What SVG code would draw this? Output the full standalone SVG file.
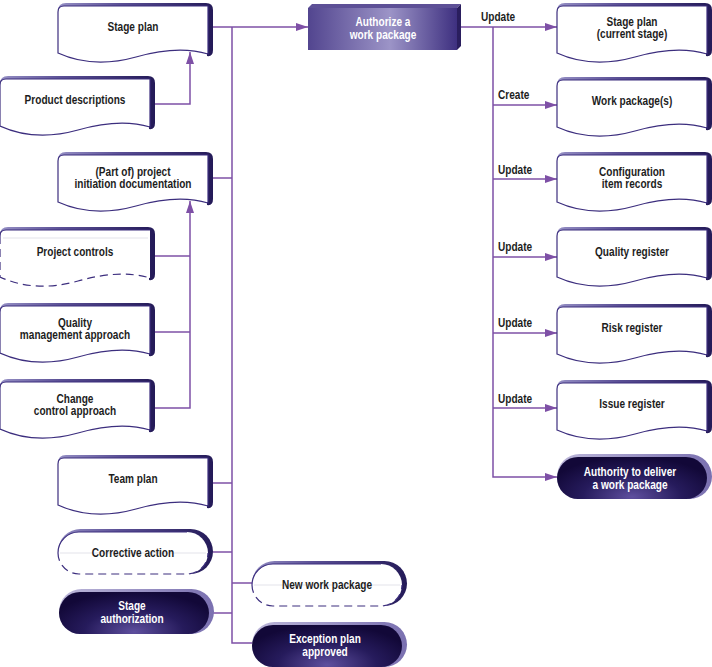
<svg xmlns="http://www.w3.org/2000/svg" xmlns:xlink="http://www.w3.org/1999/xlink" width="712" height="667" viewBox="0 0 712 667">
<style>
.face{fill:#fff;stroke:#3c2e7e;stroke-width:1.2}
.fill{fill:#fff;stroke:none}
.edge{fill:none;stroke:#3c2e7e;stroke-width:1.2}
.dash{fill:none;stroke:#3c2e7e;stroke-width:1.2;stroke-dasharray:8 5}
.band{fill:url(#gBand)}
.dband{fill:url(#gDBand)}
.dface{fill:url(#gDFace)}
.faint{stroke:#dcdce4;stroke-width:0.8}
.t{font-family:"Liberation Sans",Arial,sans-serif;font-weight:bold;font-size:12px;fill:#1d1d1d;text-anchor:middle}
.w{fill:#fff}
.lbl{text-anchor:start}
.conn{fill:none;stroke:#7e50a6;stroke-width:1.5}
</style>
<defs>
<linearGradient id="gBand" x1="0" y1="0" x2="1" y2="0">
<stop offset="0" stop-color="#958fc4"/><stop offset="0.4" stop-color="#5a4f95"/><stop offset="1" stop-color="#241a58"/>
</linearGradient>
<linearGradient id="gDBand" x1="0" y1="0" x2="1" y2="0">
<stop offset="0" stop-color="#bdb8da"/><stop offset="1" stop-color="#7a70b0"/>
</linearGradient>
<radialGradient id="gDFace" cx="0.5" cy="0.95" r="0.6" gradientTransform="translate(0.5 0.95) scale(1 1.6) translate(-0.5 -0.95)">
<stop offset="0" stop-color="#5e4f9e"/><stop offset="0.55" stop-color="#261b5c"/><stop offset="1" stop-color="#120838"/>
</radialGradient>
<linearGradient id="gAuth" x1="0" y1="0" x2="1" y2="0">
<stop offset="0" stop-color="#52458f"/><stop offset="0.55" stop-color="#9c94c7"/><stop offset="1" stop-color="#3e3080"/>
</linearGradient>
<path id="docBand" d="M0,30 V8 Q0,0 8,0 H148 Q155,0 155,7 V47 Q155,54 149,53 L149,30 Z"/>
<path id="docFace" d="M0,9 Q0,3 6,3 H150 V51 Q120,42 78,54 Q35,66 0,50 Z"/>
<path id="docTop" d="M0,9 Q0,3 6,3 H150"/>
<path id="docDash" d="M0,9 V50 Q35,66 78,54 Q120,42 150,51"/>
<rect id="pillBand" width="155" height="45" rx="22.5"/>
<rect id="pillFace" y="3" width="150" height="42" rx="21"/>
<path id="pillTop" d="M0,24 A21,21 0 0 1 21,3 H129"/>
<path id="pillDash" d="M0,24 A21,21 0 0 0 21,45 H129 A21,21 0 0 0 150,24"/>
<marker id="ah" viewBox="0 0 12 8" refX="12" refY="4" markerWidth="12" markerHeight="8" orient="auto" markerUnits="userSpaceOnUse">
<path d="M0,0 L12,4 L0,8 z" fill="#7e50a6"/>
</marker>
</defs>

<g id="connectors">
<path class="conn" d="M155,104 H190 V52" marker-end="url(#ah)"/>
<path class="conn" d="M213,27 H308" marker-end="url(#ah)"/>
<path class="conn" d="M232,27 V643 H253"/>
<path class="conn" d="M213,178 H232"/>
<path class="conn" d="M155,256 H190"/>
<path class="conn" d="M155,332 H190"/>
<path class="conn" d="M155,408 H190 V201" marker-end="url(#ah)"/>
<path class="conn" d="M213,483 H232"/>
<path class="conn" d="M213,552 H232"/>
<path class="conn" d="M232,583 H253"/>
<path class="conn" d="M213,613 H232"/>
<path class="conn" d="M461,27 H557" marker-end="url(#ah)"/>
<path class="conn" d="M493,27 V477 H557" marker-end="url(#ah)"/>
<path class="conn" d="M493,105 H557" marker-end="url(#ah)"/>
<path class="conn" d="M493,179 H557" marker-end="url(#ah)"/>
<path class="conn" d="M493,257 H557" marker-end="url(#ah)"/>
<path class="conn" d="M493,333 H557" marker-end="url(#ah)"/>
<path class="conn" d="M493,408 H557" marker-end="url(#ah)"/>
<text class="t lbl" transform="translate(481,21) scale(0.84,1)">Update</text>
<text class="t lbl" transform="translate(498,99) scale(0.84,1)">Create</text>
<text class="t lbl" transform="translate(498,174) scale(0.84,1)">Update</text>
<text class="t lbl" transform="translate(498,251) scale(0.84,1)">Update</text>
<text class="t lbl" transform="translate(498,327) scale(0.84,1)">Update</text>
<text class="t lbl" transform="translate(498,403) scale(0.84,1)">Update</text>
</g>

<g id="n-stage-plan" transform="translate(58,3)">
<use href="#docBand" class="band"/><use href="#docFace" class="face"/>
<text class="t" transform="translate(75,28) scale(0.84,1)">Stage plan</text>
</g>
<g id="n-product-descriptions" transform="translate(0,76)">
<use href="#docBand" class="band"/><use href="#docFace" class="face"/>
<text class="t" transform="translate(75,28) scale(0.84,1)">Product descriptions</text>
</g>
<g id="n-pid" transform="translate(58,152)">
<use href="#docBand" class="band"/><use href="#docFace" class="face"/>
<text class="t" transform="translate(75,24) scale(0.84,1)">(Part of) project</text>
<text class="t" transform="translate(75,36) scale(0.84,1)">initiation documentation</text>
</g>
<g id="n-project-controls" transform="translate(0,227)">
<use href="#docBand" class="band"/><use href="#docFace" class="fill"/>
<use href="#docTop" class="edge"/><use href="#docDash" class="dash"/>
<line class="faint" x1="3" y1="11" x2="148" y2="11"/>
<text class="t" transform="translate(75,29) scale(0.84,1)">Project controls</text>
</g>
<g id="n-quality-approach" transform="translate(0,303)">
<use href="#docBand" class="band"/><use href="#docFace" class="face"/>
<text class="t" transform="translate(75,24) scale(0.84,1)">Quality</text>
<text class="t" transform="translate(75,36) scale(0.84,1)">management approach</text>
</g>
<g id="n-change-approach" transform="translate(0,379)">
<use href="#docBand" class="band"/><use href="#docFace" class="face"/>
<text class="t" transform="translate(75,24) scale(0.84,1)">Change</text>
<text class="t" transform="translate(75,36) scale(0.84,1)">control approach</text>
</g>
<g id="n-team-plan" transform="translate(58,455)">
<use href="#docBand" class="band"/><use href="#docFace" class="face"/>
<text class="t" transform="translate(75,28) scale(0.84,1)">Team plan</text>
</g>
<g id="n-corrective-action" transform="translate(58,529)">
<use href="#pillBand" class="band"/><use href="#pillFace" class="fill"/>
<use href="#pillTop" class="edge"/><use href="#pillDash" class="dash"/>
<line class="faint" x1="2" y1="24" x2="148" y2="24"/>
<text class="t" transform="translate(75,28) scale(0.84,1)">Corrective action</text>
</g>
<g id="n-stage-authorization" transform="translate(59,589)">
<use href="#pillBand" class="dband"/><use href="#pillFace" class="dface"/>
<text class="t w" transform="translate(73,21) scale(0.84,1)">Stage</text>
<text class="t w" transform="translate(73,34) scale(0.84,1)">authorization</text>
</g>
<g id="n-new-work-package" transform="translate(252,561)">
<use href="#pillBand" class="band"/><use href="#pillFace" class="fill"/>
<use href="#pillTop" class="edge"/><use href="#pillDash" class="dash"/>
<line class="faint" x1="2" y1="24" x2="148" y2="24"/>
<text class="t" transform="translate(75,28) scale(0.84,1)">New work package</text>
</g>
<g id="n-exception-plan" transform="translate(252,622)">
<use href="#pillBand" class="dband"/><use href="#pillFace" class="dface"/>
<text class="t w" transform="translate(73,21) scale(0.84,1)">Exception plan</text>
<text class="t w" transform="translate(73,34) scale(0.84,1)">approved</text>
</g>

<g id="n-authorize">
<polygon points="308,8 312,4 461,4 457,8" fill="#5d5096"/>
<polygon points="457,8 461,4 461,46 457,50" fill="#2a1e5e"/>
<rect x="308" y="8" width="149" height="42" fill="url(#gAuth)"/>
<text class="t w" transform="translate(383,26) scale(0.84,1)">Authorize a</text>
<text class="t w" transform="translate(383,39) scale(0.84,1)">work package</text>
</g>

<g id="n-stage-plan-current" transform="translate(557,3)">
<use href="#docBand" class="band"/><use href="#docFace" class="face"/>
<text class="t" transform="translate(75,23) scale(0.84,1)">Stage plan</text>
<text class="t" transform="translate(75,35) scale(0.84,1)">(current stage)</text>
</g>
<g id="n-work-packages" transform="translate(557,77)">
<use href="#docBand" class="band"/><use href="#docFace" class="face"/>
<text class="t" transform="translate(75,28) scale(0.84,1)">Work package(s)</text>
</g>
<g id="n-config-records" transform="translate(557,152)">
<use href="#docBand" class="band"/><use href="#docFace" class="face"/>
<text class="t" transform="translate(75,24) scale(0.84,1)">Configuration</text>
<text class="t" transform="translate(75,36) scale(0.84,1)">item records</text>
</g>
<g id="n-quality-register" transform="translate(557,227)">
<use href="#docBand" class="band"/><use href="#docFace" class="face"/>
<text class="t" transform="translate(75,29) scale(0.84,1)">Quality register</text>
</g>
<g id="n-risk-register" transform="translate(557,304)">
<use href="#docBand" class="band"/><use href="#docFace" class="face"/>
<text class="t" transform="translate(75,28) scale(0.84,1)">Risk register</text>
</g>
<g id="n-issue-register" transform="translate(557,380)">
<use href="#docBand" class="band"/><use href="#docFace" class="face"/>
<text class="t" transform="translate(75,28) scale(0.84,1)">Issue register</text>
</g>
<g id="n-authority" transform="translate(557,454)">
<use href="#pillBand" class="dband"/><use href="#pillFace" class="dface"/>
<text class="t w" transform="translate(73,22) scale(0.84,1)">Authority to deliver</text>
<text class="t w" transform="translate(73,35) scale(0.84,1)">a work package</text>
</g>
</svg>
